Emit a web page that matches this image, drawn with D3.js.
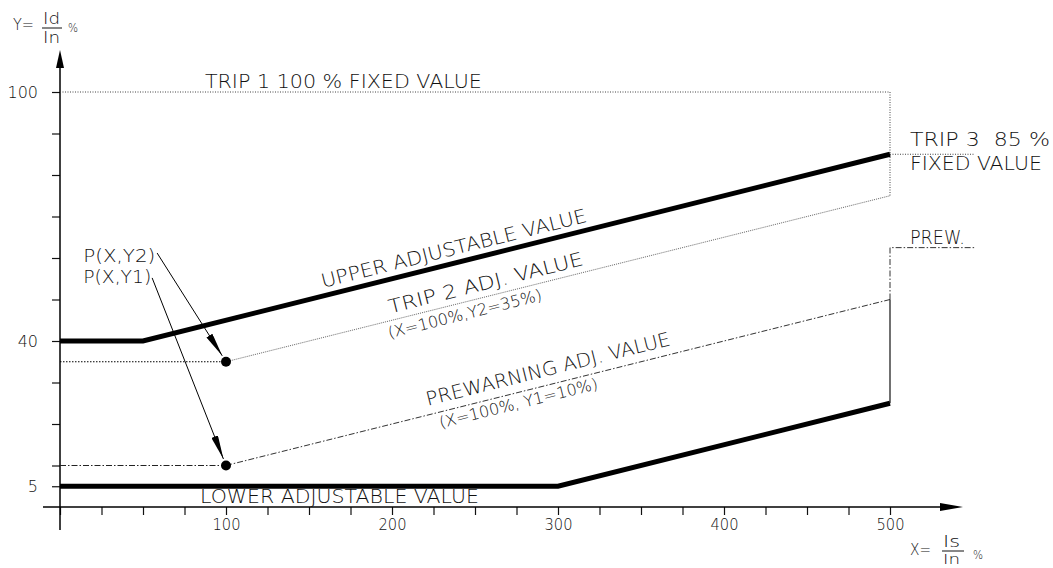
<!DOCTYPE html>
<html><head><meta charset="utf-8">
<script src="https://cdn.jsdelivr.net/npm/d3@7"></script>
<style>
html,body{margin:0;padding:0;background:#fff;overflow:hidden}
text{font-family:"DejaVu Sans",sans-serif;font-weight:200;fill:#111;white-space:pre}
</style>
</head><body><svg id="c" width="1053" height="568"></svg>
<script>
// ---- data ----
const xMinorTicks = [0,25,50,75,100,125,150,175,200,225,250,275,300,325,350,375,400,425,450,475,500];
const xTickLabels = [100,200,300,400,500];
const yMinorTicks = [5,10,20,30,40,50,60,70,80,90,100];
const yTickLabels = [100,40,5];

const upperAdj   = [[0,40],[50,40],[500,85]];
const lowerAdj   = [[0,5],[300,5],[500,25]];
const trip1Fixed = [[0,100],[500,100],[500,75]];
const trip3Fixed = [[500,85],[551,85]];
const trip2Flat  = [[0,35],[100,35]];
const trip2Slope = [[100,35],[500,75]];
const prewFlat   = [[0,10],[100,10]];
const prewSlope  = [[100,10],[500,50]];
const prewFixed  = [[500,50],[500,62.5],[551,62.5]];
const closeLine  = [[500,25],[500,50]];
const setPoints  = [[100,35],[100,10]];
const pointLabels = ["P(X,Y2)","P(X,Y1)"];
// arrow origins (data units) next to the point labels
const arrowFrom  = [[58.5,61.2],[55.5,55.2]];

// ---- scales ----
const svg = d3.select("#c");
const x = d3.scaleLinear().domain([0,500]).range([60,890]);
const y = d3.scaleLinear().domain([0,100]).range([507,92]);
const line = d3.line().x(d=>x(d[0])).y(d=>y(d[1]));

// ---- axes ----
const gx = svg.append("g").attr("transform",`translate(0,${y(0)})`)
  .call(d3.axisBottom(x).tickValues(xMinorTicks).tickSize(8).tickSizeOuter(0)
    .tickFormat(d=>xTickLabels.includes(d)?d:""));
gx.select(".domain").remove();
gx.selectAll(".tick line").attr("stroke","#111").attr("stroke-width",1.2);
gx.selectAll(".tick text").attr("font-family",null).attr("font-size",16).attr("fill","#111").attr("dy","0.71em").attr("y",12)
  .attr("textLength",28).attr("lengthAdjust","spacingAndGlyphs");

const gy = svg.append("g").attr("transform",`translate(${x(0)},0)`)
  .call(d3.axisLeft(y).tickValues(yMinorTicks).tickSize(8).tickSizeOuter(0)
    .tickFormat(d=>yTickLabels.includes(d)?d:""));
gy.select(".domain").remove();
gy.selectAll(".tick line").attr("stroke","#111").attr("stroke-width",1.2);
gy.selectAll(".tick text").attr("font-family",null).attr("font-size",16).attr("fill","#111").attr("x",-22);

// axis lines with arrows
svg.append("line").attr("x1",x(0)-17).attr("x2",x(500)+50).attr("y1",y(0)).attr("y2",y(0)).attr("stroke","#000").attr("stroke-width",1.5);
svg.append("path").attr("d",`M${x(500)+73},${y(0)} L${x(500)+50},${y(0)-4} L${x(500)+50},${y(0)+4} Z`).attr("fill","#000");
svg.append("line").attr("x1",x(0)).attr("x2",x(0)).attr("y1",y(0)+23).attr("y2",y(100)-25).attr("stroke","#000").attr("stroke-width",1.5);
svg.append("path").attr("d",`M${x(0)},${y(100)-42} L${x(0)-4},${y(100)-24} L${x(0)+4},${y(100)-24} Z`).attr("fill","#000");

// ---- lines ----
const dotted = "1,1.5", dashdot = "6,2,1.5,2";
svg.append("path").attr("d",line(trip1Fixed)).attr("fill","none").attr("stroke","#444").attr("stroke-width",1).attr("stroke-dasharray",dotted);
svg.append("path").attr("d",line(trip3Fixed)).attr("fill","none").attr("stroke","#444").attr("stroke-width",1).attr("stroke-dasharray",dotted);
svg.append("path").attr("d",line(trip2Flat)).attr("fill","none").attr("stroke","#000").attr("stroke-width",1).attr("stroke-dasharray","1.5,1.5");
svg.append("path").attr("d",line(trip2Slope)).attr("fill","none").attr("stroke","#555").attr("stroke-width",0.9).attr("stroke-dasharray","1,1");
svg.append("path").attr("d",line(prewFlat)).attr("fill","none").attr("stroke","#222").attr("stroke-width",1).attr("stroke-dasharray",dashdot);
svg.append("path").attr("d",line(prewSlope)).attr("fill","none").attr("stroke","#333").attr("stroke-width",1).attr("stroke-dasharray",dashdot);
svg.append("path").attr("d",line(prewFixed)).attr("fill","none").attr("stroke","#333").attr("stroke-width",1).attr("stroke-dasharray",dashdot);
svg.append("path").attr("d",line(closeLine)).attr("fill","none").attr("stroke","#111").attr("stroke-width",1.2);
svg.append("path").attr("d",line(upperAdj)).attr("fill","none").attr("stroke","#000").attr("stroke-width",5).attr("stroke-linejoin","miter");
svg.append("path").attr("d",line(lowerAdj)).attr("fill","none").attr("stroke","#000").attr("stroke-width",5).attr("stroke-linejoin","miter");

svg.selectAll("circle.pt").data(setPoints).enter().append("circle").attr("class","pt")
  .attr("cx",d=>x(d[0])).attr("cy",d=>y(d[1])).attr("r",5).attr("fill","#000");

// ---- arrows ----
svg.append("defs").append("marker").attr("id","ah").attr("viewBox","0 0 24 7")
  .attr("refX",24).attr("refY",3.5).attr("markerWidth",24).attr("markerHeight",7)
  .attr("markerUnits","userSpaceOnUse").attr("orient","auto")
  .append("path").attr("d","M0,0 L24,3.5 L0,7 Z").attr("fill","#000");
setPoints.forEach((p,i)=>{
  const x1=x(arrowFrom[i][0]), y1=y(arrowFrom[i][1]);
  const x2=x(p[0]), y2=y(p[1]);
  const L=Math.hypot(x2-x1,y2-y1), k=(L-7)/L;
  svg.append("line").attr("x1",x1).attr("y1",y1).attr("x2",x1+(x2-x1)*k).attr("y2",y1+(y2-y1)*k)
    .attr("stroke","#000").attr("stroke-width",1).attr("marker-end","url(#ah)");
});

// ---- labels ----
function lab(t,px,py,size,len,rot){
  const s=svg.append("text").attr("font-size",size).attr("x",px).attr("y",py).text(t);
  if(len) s.attr("textLength",len).attr("lengthAdjust","spacingAndGlyphs");
  if(rot) s.attr("transform",`rotate(${rot},${px},${py})`);
  return s;
}
pointLabels.forEach((t,i)=>{
  lab(t, x(14), y(60)+[4,25][i], 18, [72,68][i]);
});
lab("TRIP 1 100 % FIXED VALUE", x(87.3), y(100)-4, 19, 277);
lab("TRIP 3  85 %", x(512), y(85)-8, 19, 140);
lab("FIXED VALUE", x(512), y(85)+16, 19, 132);
lab("PREW.", x(512), y(62.5)-4, 19, 55);
lab("LOWER ADJUSTABLE VALUE", x(84.3), y(5)+17, 19, 279);

const ang = Math.atan2(y(85)-y(40), x(500)-x(50))*180/Math.PI;
function along(t,X,series,off,size,len){
  const Y=series[1]+series[2]*(X-series[0]);
  const px=x(X), py=y(Y);
  const r=ang*Math.PI/180;
  const qx=px-off*Math.sin(r), qy=py+off*Math.cos(r);
  lab(t,qx,qy,size,len,ang);
}
along("UPPER ADJUSTABLE VALUE",159.6,[50,40,0.1],-8,19,273);
along("TRIP 2 ADJ. VALUE",200,[100,35,0.1],-7,19,200);
along("(X=100%,Y2=35%)",196,[100,35,0.1],17,16,158);
along("PREWARNING ADJ. VALUE",222.9,[100,10,0.1],-9,19,251);
along("(X=100%, Y1=10%)",227,[100,10,0.1],16,16,163);

// axis titles
lab("Y=",13,30,16,21);
lab("Id",43,24,16,17);
svg.append("line").attr("x1",42).attr("x2",62).attr("y1",28).attr("y2",28).attr("stroke","#111").attr("stroke-width",1);
lab("In",43,43,16,17);
lab("%",68,32,13,10);
lab("X=",910,555,16,21);
lab("Is",943,547,16,17);
svg.append("line").attr("x1",942).attr("x2",964).attr("y1",551).attr("y2",551).attr("stroke","#111").attr("stroke-width",1);
lab("In",943,564,14,17);
lab("%",973,559,13,10);
</script></body></html>
